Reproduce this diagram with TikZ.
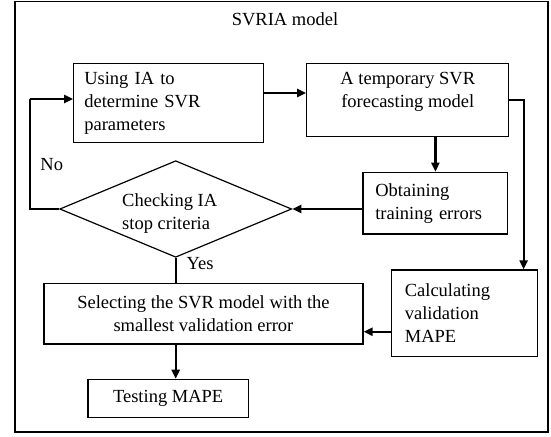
\documentclass[tikz,border=0pt]{standalone}
\usepackage{fontspec}
\setmainfont{Liberation Serif}
\usetikzlibrary{arrows.meta,shapes.geometric,calc}

\begin{document}
\begin{tikzpicture}[x=1pt,y=-1pt,
  every node/.style={font=\fontsize{18.5}{23}\selectfont},
  box/.style={draw,line width=1.2pt,rectangle,inner sep=0pt},
  lbox/.style={box,align=left},
  cbox/.style={box,align=center},
  decide/.style={draw,line width=1.2pt,diamond,inner sep=0pt},
  txt/.style={inner sep=0pt},
  flow/.style={line width=2.2pt,-{Triangle[length=9pt,width=8pt]}},
  link/.style={line width=2.2pt}
]
\useasboundingbox (0,0) rectangle (551,436);

% outer frame and heading
\draw[line width=1.8pt] (14.8,1.5) rectangle (548,432);
\node[txt] (title) at (285,19) {SVRIA model};

% process boxes
\node[lbox,minimum width=189.7pt,minimum height=79.4pt,text width=168.7pt]
  (setpar) at (168.65,103) {Using IA to\\determine SVR\\parameters};
\node[box,minimum width=202pt,minimum height=73.4pt]
  (tmpmodel) at (407.8,100) {};
\node[txt,align=center] (tmptext) at (407.8,91.5) {A temporary SVR\\forecasting model};
\node[lbox,minimum width=144.8pt,minimum height=61.7pt,text width=120.2pt]
  (trainerr) at (435.4,203.15) {Obtaining\\training errors};
\node[decide,minimum width=232pt,minimum height=96.6pt]
  (stopcheck) at (175.7,209) {};
\node[txt,align=left,anchor=west] (stoptext) at (122,213.5) {Checking IA\\stop criteria};
\node[lbox,minimum width=145.8pt,minimum height=86.7pt,text width=119.8pt]
  (valmape) at (464.7,313.35) {Calculating\\validation\\MAPE};
\node[cbox,minimum width=319.1pt,minimum height=60.7pt]
  (select) at (203.45,313.65) {Selecting the SVR model with the\\smallest validation error};
\node[cbox,minimum width=160.5pt,minimum height=38pt]
  (testmape) at (168.15,398.3) {Testing MAPE};

% branch labels
\node[txt] (nolabel) at (51.8,165) {No};
\node[txt] (yeslabel) at (200,263.3) {Yes};

% connectors
\coordinate (loopcorner) at (29.9,99);
\coordinate (rightrun) at (523.6,100);

\draw[flow] ([yshift=10pt]setpar.east) -- ([yshift=10pt]setpar.east -| tmpmodel.west);
\draw[flow] (tmpmodel.east) -- (rightrun) -- (rightrun |- valmape.north);
\draw[flow] (trainerr.north |- tmpmodel.south) -- (trainerr.north);
\draw[flow] (trainerr.west |- stopcheck.east) -- (stopcheck.east);
\draw[line width=1.2pt] (stopcheck.west) -| (loopcorner);
\draw[flow] (loopcorner) -- (loopcorner -| setpar.west);
\draw[link] (stopcheck.south) -- (stopcheck.south |- select.north);
\draw[flow] ([yshift=-18.4pt]valmape.west) -- ([yshift=-18.4pt]valmape.west -| select.east);
\draw[flow] (stopcheck.south |- select.south) -- (stopcheck.south |- testmape.north);
\end{tikzpicture}
\end{document}
